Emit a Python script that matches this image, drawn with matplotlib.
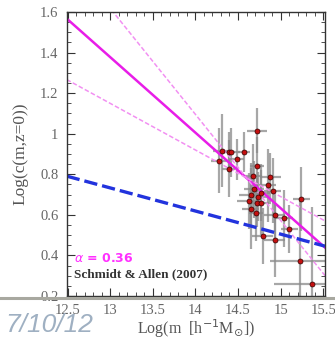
import matplotlib
matplotlib.use("Agg")
import matplotlib.pyplot as plt
from matplotlib.lines import Line2D
from matplotlib.ticker import MultipleLocator
import numpy as np

# ---------------------------------------------------------------------------
# Dados
# ---------------------------------------------------------------------------
log_m = [14.28, 14.31, 14.39, 14.42, 14.39, 14.49, 14.57, 14.72, 14.72, 14.68,
         14.88, 14.85, 14.91, 14.69, 14.65, 14.74, 14.77, 14.63, 14.72, 14.77,
         14.65, 14.71, 14.93, 15.04, 15.10, 14.79, 14.93, 15.24, 15.23, 15.37]
log_c = [0.866, 0.916, 0.910, 0.908, 0.828, 0.874, 0.910, 1.015, 0.843, 0.790,
         0.785, 0.746, 0.720, 0.726, 0.698, 0.690, 0.710, 0.668, 0.660, 0.660,
         0.630, 0.610, 0.600, 0.583, 0.530, 0.496, 0.476, 0.678, 0.374, 0.259]
err_m = [0.10, 0.10, 0.08, 0.10, 0.08, 0.08, 0.07, 0.12, 0.08, 0.10,
         0.12, 0.10, 0.10, 0.12, 0.14, 0.12, 0.10, 0.14, 0.10, 0.12,
         0.10, 0.08, 0.12, 0.10, 0.10, 0.12, 0.12, 0.10, 0.35, 0.45]
err_c = [0.16, 0.18, 0.10, 0.12, 0.14, 0.10, 0.10, 0.11, 0.14, 0.16,
         0.12, 0.18, 0.16, 0.14, 0.16, 0.12, 0.14, 0.14, 0.12, 0.16,
         0.20, 0.14, 0.12, 0.14, 0.12, 0.14, 0.18, 0.16, 0.30, 0.38]

# ajuste (reta em torno de um pivo) e banda de erro
pivo_m, pivo_c = 14.6, 0.782
incl_ajuste = -0.3725
incl_banda = [-0.523, -0.23]

# curva teorica (tracejado azul)
teo_c0, teo_incl = 0.79, -0.114

xlim = (12.49, 15.52)
ylim = (0.2, 1.6)

# ---------------------------------------------------------------------------
# Figura
# ---------------------------------------------------------------------------
plt.rcParams["font.family"] = ["Liberation Serif", "DejaVu Serif"]
fig = plt.figure(figsize=(3.35, 3.38), dpi=100)
ax = fig.add_axes([0.199, 0.1243, 0.771, 0.840])

ax.errorbar(log_m, log_c, xerr=err_m, yerr=err_c, fmt="none",
            ecolor="#8a8a8a", elinewidth=1.6, alpha=0.75, zorder=1)

xs = np.array(xlim)
ax.plot(xs, pivo_c + incl_ajuste * (xs - pivo_m), color="#e81de8",
        linewidth=1.8, zorder=2)
for s in incl_banda:
    ax.plot(xs, pivo_c + s * (xs - pivo_m), color="#f290f2",
            linewidth=1.1, linestyle=(0, (3, 1.5)), zorder=2)

ax.plot(xs, teo_c0 + teo_incl * (xs - 12.5), color="#2233dd",
        linewidth=2.4, linestyle=(0, (4, 1.5)), zorder=2)

ax.scatter(log_m, log_c, s=13, color="#c41010", edgecolors="#300000",
           linewidths=0.5, zorder=3)

ax.text(12.58, 0.386, r"$\alpha$ = 0.36", color="#ff30ff", fontsize=9,
        family=["DejaVu Sans"], fontweight="bold", va="center")
ax.text(12.58, 0.308, "Schmidt & Allen (2007)", color="#333333",
        fontsize=9.5, fontweight="bold", va="center")

ax.set_xlim(*xlim)
ax.set_ylim(*ylim)
ax.xaxis.set_minor_locator(MultipleLocator(0.1))
ax.yaxis.set_minor_locator(MultipleLocator(0.05))
ax.set_xticks([12.5, 13, 13.5, 14, 14.5, 15, 15.5])
ax.set_xticklabels(["12.5", "13", "13.5", "14", "14.5", "15", "15.5"])
ax.set_yticks([0.2, 0.4, 0.6, 0.8, 1.0, 1.2, 1.4, 1.6])
ax.set_yticklabels(["0.2", "0.4", "0.6", "0.8", "1", "1.2", "1.4", "1.6"])
ax.tick_params(which="both", direction="in", top=True, right=True,
               colors="#333333", labelcolor="#666666", labelsize=10.5)
ax.tick_params(which="major", length=6, width=0.8)
ax.tick_params(which="minor", length=3, width=0.6)
ax.tick_params(axis="x", which="major", pad=6)
ax.tick_params(axis="y", which="major", pad=6)
for sp in ax.spines.values():
    sp.set_linewidth(1.0)
    sp.set_color("#333333")

ax.set_xlabel(r"Log(m  [h$^{-1}$M$_{\odot}$])", fontsize=11.5,
              color="#555555", labelpad=0)
ax.set_ylabel("Log(c(m,z=0))", fontsize=12.5, color="#555555", labelpad=8)

# linha cinza do slide e data manuscrita
fig.add_artist(Line2D([0, 1], [1 - 298 / 338] * 2, transform=fig.transFigure,
                      color="#a8a8a0", linewidth=2.2))
fig.text(5 / 335, 1 - 325 / 338, "7/10/12", fontsize=19, style="italic",
         color="#9fb0c2", family=["Liberation Sans Narrow", "Liberation Sans"],
         va="center", ha="left")

fig.savefig("out.png", dpi=100)
